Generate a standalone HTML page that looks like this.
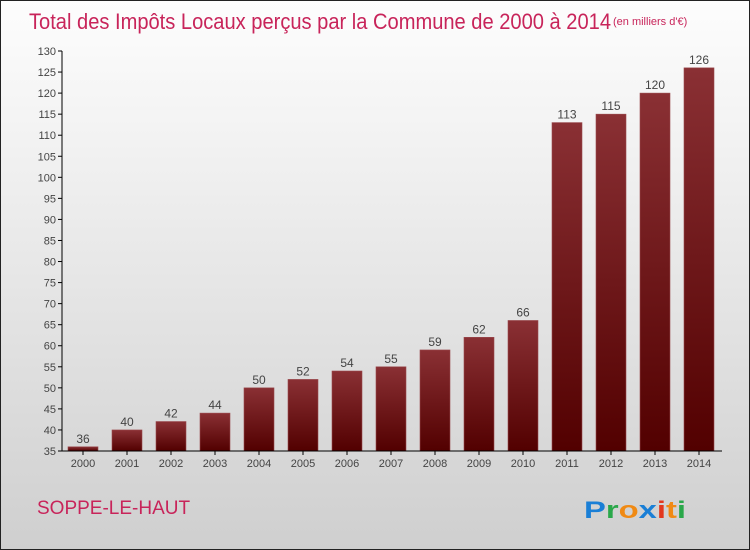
<!DOCTYPE html>
<html><head><meta charset="utf-8"><style>
body{margin:0}
#c{width:748px;height:548px;border:1px solid #222;background:linear-gradient(#fdfdfd,#f0f0f0 30%,#cfcfcf);position:relative;font-family:"Liberation Sans",sans-serif;overflow:hidden}
svg{position:absolute;left:0;top:0}
</style></head><body>
<div id="c">
<svg id="s" width="750" height="550">
<defs><linearGradient id="g" x1="0" y1="0" x2="0" y2="1"><stop offset="0" stop-color="#8a3034"/><stop offset="1" stop-color="#520000"/></linearGradient></defs>
<text x="28" y="28" font-size="22" fill="#c8245a" textLength="582" lengthAdjust="spacingAndGlyphs">Total des Impôts Locaux perçus par la Commune de 2000 à 2014</text>
<text x="612" y="24" font-size="11" fill="#c8245a">(en milliers d'€)</text>
<text x="36" y="513" font-size="19" fill="#c8245a">SOPPE-LE-HAUT</text>
<text x="583" y="517" font-size="24" font-weight="bold" textLength="102" lengthAdjust="spacingAndGlyphs"><tspan fill="#1a7fd6">P</tspan><tspan fill="#2aa84a">r</tspan><tspan fill="#f08a14">o</tspan><tspan fill="#1a7fd6">x</tspan><tspan fill="#e3381e">i</tspan><tspan fill="#f08a14">t</tspan><tspan fill="#2aa84a">i</tspan></text>
</svg>
</div>
<script>
const years=["2000","2001","2002","2003","2004","2005","2006","2007","2008","2009","2010","2011","2012","2013","2014"];
const values=[36,40,42,44,50,52,54,55,59,62,66,113,115,120,126];
const yTicks=[35,40,45,50,55,60,65,70,75,80,85,90,95,100,105,110,115,120,125,130];
const s=document.getElementById('s');const NS='http://www.w3.org/2000/svg';
const y=v=>450-(v-35)*400/95;const x=i=>82+i*44;
function mk(t,a,p){const e=document.createElementNS(NS,t);for(const k in a)e.setAttribute(k,a[k]);(p||s).appendChild(e);return e;}
yTicks.forEach(t=>{
const l=mk('line',{x1:57,x2:61,y1:y(t),y2:y(t),stroke:'#000'});


const tx=mk('text',{x:55,y:y(t)+4,'font-size':11,fill:'#444','text-anchor':'end'});tx.textContent=t;


});
values.forEach((v,i)=>{
const r=mk('rect',{x:x(i)-15,y:y(v),width:30,height:450-y(v),fill:'url(#g)',stroke:'#9a4a4e','stroke-width':0.6});


const t=mk('text',{x:x(i),y:y(v)-4,'font-size':12,fill:'#444','text-anchor':'middle'});t.textContent=v;


const k=mk('line',{x1:x(i),x2:x(i),y1:450,y2:454,stroke:'#000'});


const xl=mk('text',{x:x(i),y:466,'font-size':11,fill:'#444','text-anchor':'middle'});xl.textContent=years[i];


});
const ya=mk('line',{x1:61,x2:61,y1:y(130),y2:450,stroke:'#000'});


const xa=mk('line',{x1:61,x2:721,y1:450,y2:450,stroke:'#000'});


</script>
</body></html>
